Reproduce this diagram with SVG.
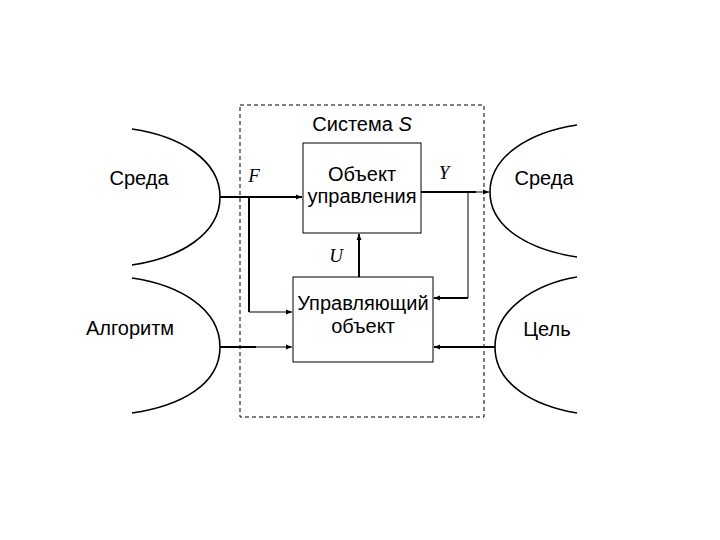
<svg xmlns="http://www.w3.org/2000/svg" width="720" height="540" viewBox="0 0 720 540">
<defs>
<style>
.t{font-family:"Liberation Sans",Arial,sans-serif;font-size:20px;fill:#000;text-anchor:middle}
.v{font-family:"Liberation Serif","Times New Roman",serif;font-style:italic;font-size:19px;fill:#000;text-anchor:middle}
.box{fill:#fff;stroke:#000;stroke-width:1}
.curve{fill:none;stroke:#000;stroke-width:1.6}
.th{fill:none;stroke:#000;stroke-width:2}
.tn{fill:none;stroke:#000;stroke-width:1}
</style>
<marker id="a" viewBox="0 0 6 6" refX="6" refY="3" markerWidth="6" markerHeight="6" markerUnits="userSpaceOnUse" orient="auto">
<path d="M0,0.5 L6,3 L0,5.5 Z" fill="#000"/>
</marker>
</defs>
<rect width="720" height="540" fill="#fff"/>
<rect id="system" x="240" y="105" width="244" height="312" fill="none" stroke="#000" stroke-width="1" stroke-dasharray="4,3"/>
<text class="t" x="362" y="131">Система <tspan font-style="italic">S</tspan></text>
<g id="env-left">
<path class="curve" d="M132,129 C180,136 220,160 220,197 S180,258 132,265"/>
<text class="t" x="139" y="185">Среда</text>
</g>
<g id="algorithm">
<path class="curve" d="M132,278 C180,285 220,309 220,347 S180,406 132,413"/>
<text class="t" x="130" y="335">Алгоритм</text>
</g>
<g id="env-right">
<path class="curve" d="M577,125 C530,132 490,156 490,192 S530,250 577,257"/>
<text class="t" x="544" y="185">Среда</text>
</g>
<g id="goal">
<path class="curve" d="M577,277 C535,284 495,309 495,347 S535,406 577,413"/>
<text class="t" x="547" y="336">Цель</text>
</g>
<g id="object">
<rect class="box" x="303" y="143" width="118" height="90"/>
<text class="t" x="362" y="181">Объект</text>
<text class="t" x="362" y="203">управления</text>
</g>
<g id="controller">
<rect class="box" x="293" y="277" width="140" height="85"/>
<text class="t" x="363" y="310">Управляющий</text>
<text class="t" x="363" y="333">объект</text>
</g>
<g id="connectors">
<path class="th" d="M220,197 H302" marker-end="url(#a)"/>
<path class="th" d="M249,197 V312"/>
<path class="tn" d="M249,312 H292" marker-end="url(#a)"/>
<path class="th" d="M220,347 H256"/>
<path class="tn" d="M256,347 H292" marker-end="url(#a)"/>
<path class="th" d="M359,277 V234" marker-end="url(#a)"/>
<path class="th" d="M421,192 H476"/>
<path class="tn" d="M476,192 H489" marker-end="url(#a)"/>
<path class="tn" d="M468,192 V298"/>
<path class="th" d="M468,298 H434" marker-end="url(#a)"/>
<path class="th" d="M495,347 H434" marker-end="url(#a)"/>
</g>
<text class="v" x="254" y="182">F</text>
<text class="v" x="444" y="179">Y</text>
<text class="v" x="336" y="262">U</text>
</svg>
